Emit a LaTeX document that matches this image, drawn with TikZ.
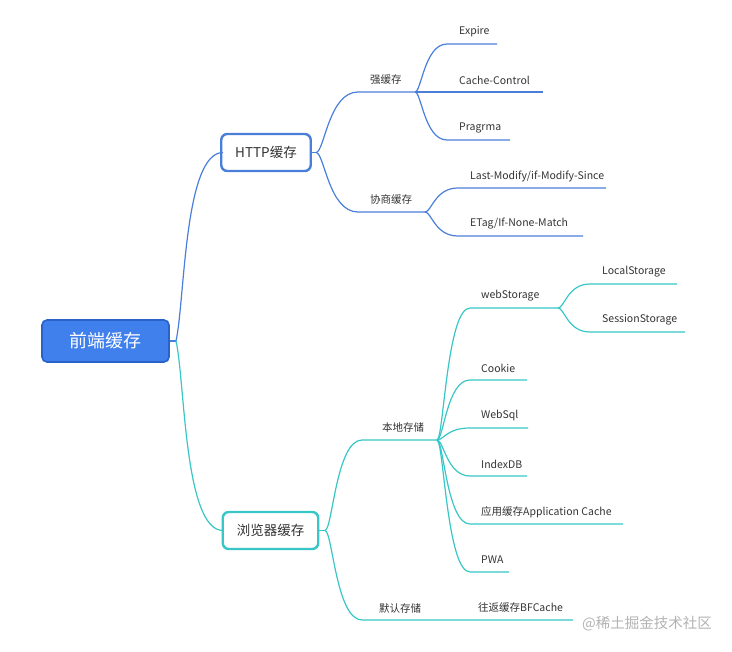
\documentclass[tikz,border=0pt]{standalone}
\usepackage{fontspec}
\setmainfont{Noto Sans CJK SC}
\usetikzlibrary{calc}
\definecolor{bl}{RGB}{74,127,217}
\definecolor{tl}{RGB}{56,198,198}
\definecolor{rootfill}{RGB}{64,128,236}
\definecolor{rootdraw}{RGB}{42,98,200}
\definecolor{txt}{RGB}{51,51,51}
\newcommand\brc[4][]{\draw[#1] let \p1=(#2), \p2=(#3) in (#2) .. controls ({\x1+0.2*(\x2-\x1)},\y1) and ({\x1+0.3*(\x2-\x1)},\y2) .. (#3) -- (#4);}
\begin{document}
\begin{tikzpicture}[x=1pt,y=-1pt,
  lbl/.style={anchor=west,inner sep=0pt,text=txt,font=\fontsize{10.5}{12}\selectfont},
  bline/.style={draw=bl,line width=1.2pt},
  tline/.style={draw=tl,line width=1.2pt},
  rootbox/.style={draw=rootdraw,fill=rootfill,line width=1.6pt,rounded corners=5pt,minimum width=127pt,minimum height=42pt,text=white,font=\fontsize{18}{20}\selectfont},
  subbox/.style={fill=white,line width=2.4pt,rounded corners=6pt,minimum height=37pt,inner xsep=14pt,text=txt,font=\fontsize{13.5}{15}\selectfont}]
\useasboundingbox (0,0) rectangle (732,652);

% main nodes
\node[rootbox] (root) at (105.5,341) {前端缓存};
\node[subbox,draw=bl] (http) at (266,152.5) {HTTP缓存};
\node[subbox,draw=tl] (brow) at (270.5,530.5) {浏览器缓存};

% coordinates
\coordinate (rs) at (176,341);
\coordinate (hin) at (223,152.5);
\coordinate (bin) at (223,530.5);
\coordinate (hs) at (316,152.5);
\coordinate (bs) at (325,530.5);
\coordinate (q1a) at (358,92); \coordinate (q1b) at (415,92);
\coordinate (q2a) at (358,212); \coordinate (q2b) at (425,212);
\coordinate (exa) at (447,44); \coordinate (exb) at (497,44);
\coordinate (ccb) at (543,92);
\coordinate (pga) at (447,140); \coordinate (pgb) at (510,140);
\coordinate (lma) at (458,188); \coordinate (lmb) at (606,188);
\coordinate (eta) at (458,236); \coordinate (etb) at (583,236);
\coordinate (lsa) at (362,440); \coordinate (lsb) at (437,440);
\coordinate (dfa) at (362,620); \coordinate (dfb) at (573,620);
\coordinate (wsa) at (470,308); \coordinate (wsb) at (558,308);
\coordinate (cka) at (470,380); \coordinate (ckb) at (527,380);
\coordinate (wqa) at (470,428); \coordinate (wqb) at (528,428);
\coordinate (ida) at (470,476); \coordinate (idb) at (527,476);
\coordinate (aca) at (470,524); \coordinate (acb) at (623,524);
\coordinate (pwa) at (470,572); \coordinate (pwb) at (509,572);
\coordinate (loa) at (590,284); \coordinate (lob) at (677,284);
\coordinate (ssa) at (590,332); \coordinate (ssb) at (685,332);

% root connectors
\draw[bline] (root.east) -- (rs);
\draw[bline] (rs) .. controls (185,300) and (184,152.5) .. (hin);
\draw[tline] (rs) .. controls (185,380) and (184,530.5) .. (bin);

% HTTP branch
\draw[bline] (http.east) -- (hs);
\brc[bline]{hs}{q1a}{q1b}
\brc[bline]{hs}{q2a}{q2b}
\brc[bline]{q1b}{exa}{exb}
\draw[bline] (q1b) -- (ccb);
\brc[bline]{q1b}{pga}{pgb}
\brc[bline]{q2b}{lma}{lmb}
\brc[bline]{q2b}{eta}{etb}

% browser branch
\draw[tline] (brow.east) -- (bs);
\brc[tline]{bs}{lsa}{lsb}
\brc[tline]{bs}{dfa}{dfb}
\brc[tline]{lsb}{wsa}{wsb}
\brc[tline]{lsb}{cka}{ckb}
\brc[tline]{lsb}{wqa}{wqb}
\brc[tline]{lsb}{ida}{idb}
\brc[tline]{lsb}{aca}{acb}
\brc[tline]{lsb}{pwa}{pwb}
\brc[tline]{wsb}{loa}{lob}
\brc[tline]{wsb}{ssa}{ssb}

% labels
\node[lbl] (t1) at (370,80) {强缓存};
\node[lbl] (t2) at (370,200) {协商缓存};
\node[lbl] (t3) at (459,32) {Expire};
\node[lbl] (t4) at (459,80) {Cache-Control};
\node[lbl] (t5) at (459,128) {Pragrma};
\node[lbl] (t6) at (470,176) {Last-Modify/if-Modify-Since};
\node[lbl] (t7) at (470,224) {ETag/If-None-Match};
\node[lbl] (t8) at (382,428) {本地存储};
\node[lbl] (t9) at (379,608) {默认存储};
\node[lbl] (t10) at (478,608) {往返缓存BFCache};
\node[lbl] (t11) at (481,296) {webStorage};
\node[lbl] (t12) at (481,368) {Cookie};
\node[lbl] (t13) at (481,416) {WebSql};
\node[lbl] (t14) at (481,464) {IndexDB};
\node[lbl] (t15) at (481,512) {应用缓存Application Cache};
\node[lbl] (t16) at (481,560) {PWA};
\node[lbl] (t17) at (602,272) {LocalStorage};
\node[lbl] (t18) at (602,320) {SessionStorage};

% watermark
\node[anchor=east,inner sep=0pt,text=black!30,font=\fontsize{14.5}{16}\selectfont] (wm) at (712,624) {@稀土掘金技术社区};
\end{tikzpicture}
\end{document}
